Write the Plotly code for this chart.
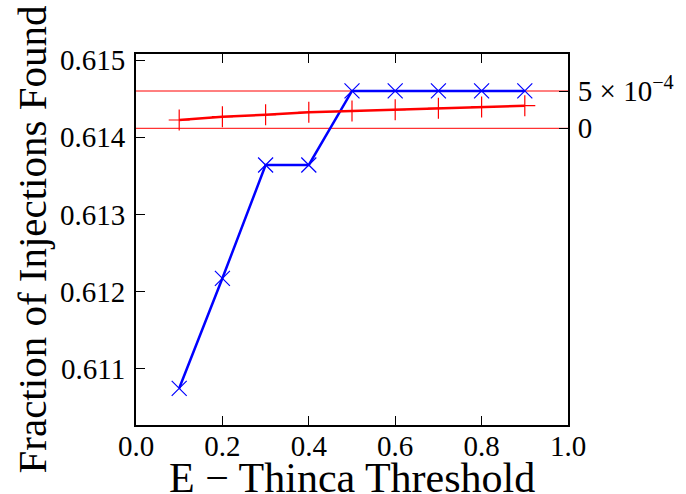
import plotly.graph_objects as go

thresholds = [0.1, 0.2, 0.3, 0.4, 0.5, 0.6, 0.7, 0.8, 0.9]
fraction_found = [0.610746, 0.612171, 0.613640, 0.613640, 0.614599,
                  0.614599, 0.614599, 0.614599, 0.614599]
difference = [1.11e-4, 1.56e-4, 1.82e-4, 2.14e-4, 2.32e-4,
              2.50e-4, 2.68e-4, 2.86e-4, 3.03e-4]
ref_levels = [0.0, 5e-4]
x_ticks = [0.0, 0.2, 0.4, 0.6, 0.8, 1.0]
y_ticks = [0.611, 0.612, 0.613, 0.614, 0.615]
y2_ticks = [0.0, 5e-4]
y2_ticktext = ["0", "5 × 10<sup>−4</sup>"]

FONT = "Liberation Serif, DejaVu Serif, Times New Roman, serif"
W, H = 686, 494
L, R, T, B = 136, 118, 54, 69

fig = go.Figure()
fig.add_trace(go.Scatter(
    x=thresholds, y=fraction_found, mode="lines+markers",
    line=dict(color="#0000ff", width=2.5),
    marker=dict(symbol="x-thin", size=15, line=dict(color="#0000ff", width=1.2)),
    yaxis="y", showlegend=False))
fig.add_trace(go.Scatter(
    x=thresholds, y=difference, mode="lines+markers",
    line=dict(color="#ff0000", width=2.5),
    marker=dict(symbol="cross-thin", size=15, line=dict(color="#ff0000", width=1.2)),
    yaxis="y2", showlegend=False))

for lv in ref_levels:
    fig.add_shape(type="line", xref="paper", x0=0, x1=1, yref="y2", y0=lv, y1=lv,
                  line=dict(color="#ff0000", width=1), layer="below")

tickfont = dict(family=FONT, size=29, color="black")
fig.update_layout(
    width=W, height=H,
    margin=dict(l=L, r=R, t=T, b=B, autoexpand=False),
    paper_bgcolor="white", plot_bgcolor="white",
    font=dict(family=FONT, color="black"),
    xaxis=dict(range=[0, 1], tickvals=x_ticks, ticktext=[f"{v:.1f}" for v in x_ticks],
               showline=True, linecolor="black", linewidth=2, mirror="ticks",
               ticks="inside", ticklen=9, tickwidth=1.2, tickcolor="black",
               ticklabelstandoff=-6,
               showgrid=False, zeroline=False, tickfont=tickfont),
    yaxis=dict(range=[0.6102704, 0.6150778], tickvals=y_ticks,
               ticktext=[f"{v:.3f}" for v in y_ticks],
               showline=True, linecolor="black", linewidth=2,
               ticks="inside", ticklen=9, tickwidth=1.2, tickcolor="black",
               ticklabelstandoff=3,
               showgrid=False, zeroline=False, tickfont=tickfont),
    yaxis2=dict(range=[-3.977e-3, 9.96e-4], overlaying="y", side="right",
                tickvals=y2_ticks, ticktext=y2_ticktext,
                showline=True, linecolor="black", linewidth=2,
                ticks="inside", ticklen=9, tickwidth=1.2, tickcolor="black",
                ticklabelstandoff=2,
                showgrid=False, zeroline=False, tickfont=tickfont),
)

pw, ph = W - L - R, H - T - B
fig.add_annotation(text="E − Thinca Threshold", xref="paper", yref="paper",
                   x=0.5, y=(0 - (478 - (H - B))) / ph, xanchor="center", yanchor="middle",
                   showarrow=False, font=dict(family=FONT, size=42, color="black"))
fig.add_annotation(text="Fraction of Injections Found", xref="paper", yref="paper",
                   x=(31 - L) / pw, y=0.5, xanchor="center", yanchor="middle", textangle=-90,
                   showarrow=False, font=dict(family=FONT, size=41, color="black"))

fig.write_html("out.html", config={"displayModeBar": False},
               post_script="document.body.style.margin='0px';document.body.style.overflow='hidden';")
